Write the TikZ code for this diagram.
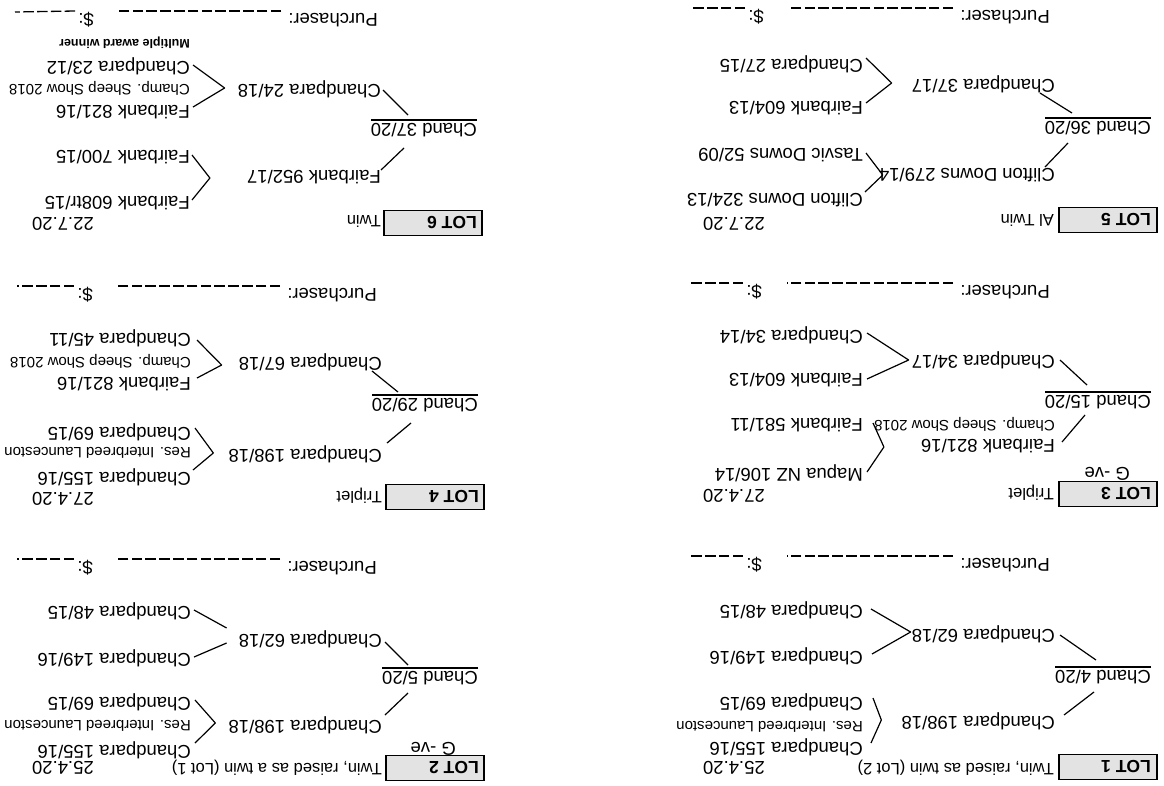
\documentclass[tikz,border=0pt]{standalone}
\usepackage{fontspec}
\setmainfont{Liberation Sans}
\tikzset{
 nm/.style={anchor=west, inner sep=0pt, font=\fontsize{18.5}{20}\selectfont},
 sm/.style={nm, font=\fontsize{15}{16}\selectfont},
 dsc/.style={nm, font=\fontsize{16.5}{18}\selectfont},
 lotlbl/.style={nm, font=\bfseries\fontsize{17.5}{19}\selectfont},
 award/.style={nm, font=\bfseries\fontsize{12.5}{14}\selectfont},
 lotbox/.style={draw=black, line width=1.8pt, fill=gray!22, minimum width=98pt, minimum height=25pt, anchor=west, inner sep=0pt},
 con/.style={line width=1.2pt, line join=round},
 dsh/.style={line width=1.3pt, dash pattern=on 10.5pt off 3.3pt},
}
\begin{document}
\begin{tikzpicture}[x=1pt,y=1pt]
\fill[white] (0,0) rectangle (1164,-785);
\useasboundingbox (0,0) rectangle (1164,-785);
\begin{scope}[rotate around={180:(582,-392.5)}, transform shape]
% ---------------- LOT 1
\node[lotbox] (b1) at (6,-18) {};
\node[lotlbl] (t1) at (13,-18) {LOT 1};
\node[dsc] (d1) at (110,-17) {Twin, raised as twin (Lot 2)};
\node[nm] (dt1) at (399,-17) {25.4.20};
\node[nm] (c1) at (13,-108) {Chand 4/20};
\node[nm] (p1a) at (109,-64) {Chandpara 198/18};
\node[nm] (p1b) at (109,-151) {Chandpara 62/18};
\node[nm] (g1a) at (301,-38) {Chandpara 155/16};
\node[sm] (n1a) at (301,-58) {Res. Interbreed Launceston};
\node[nm] (g1b) at (301,-83) {Chandpara 69/15};
\node[nm] (g1c) at (301,-129) {Chandpara 149/16};
\node[nm] (g1d) at (301,-175) {Chandpara 48/15};
\draw[con] ([yshift=-3pt]c1.south west) -- ([yshift=-3pt]c1.south east);
\draw[con] ([shift={(57,15)}]c1.west) -- ([shift={(-9,-6)}]p1a.west);
\draw[con] ([shift={(55,-17)}]c1.west) -- ([shift={(-5,1)}]p1b.west);
\draw[con] ([shift={(-8,-4)}]g1a.west) -- ([shift={(20,-1)}]p1a.east) -- ([shift={(-10,-4)}]g1b.west);
\draw[con] ([shift={(-9,-2)}]g1c.west) -- ([shift={(1,-2)}]p1b.east) -- ([shift={(-8,-1)}]g1d.west);
\node[nm] (pu1) at (114,-220) {Purchaser:};
\node[nm] (dl1) at (402,-220) {\$:};
\coordinate (e1) at (476,-229);
\draw[dsh] ([shift={(7,-9)}]pu1.east) -- ([shift={(-25,-9)}]dl1.west);
\draw[dsh] ([shift={(3,-9)}]dl1.east) -- (e1);
% ---------------- LOT 2
\node[lotbox] (b2) at (679,-17) {};
\node[lotlbl] (t2) at (685,-17) {LOT 2};
\node[dsc] (d2) at (782,-17) {Twin, raised as a twin (Lot 1)};
\node[nm] (dt2) at (1070,-17) {25.4.20};
\node[nm] (gv2) at (708,-36) {G -ve};
\node[nm] (c2) at (686,-107) {Chand 5/20};
\node[nm] (p2a) at (782,-60) {Chandpara 198/18};
\node[nm] (p2b) at (782,-146) {Chandpara 62/18};
\node[nm] (g2a) at (973,-35) {Chandpara 155/16};
\node[sm] (n2a) at (973,-59) {Res. Interbreed Launceston};
\node[nm] (g2b) at (973,-83) {Chandpara 69/15};
\node[nm] (g2c) at (973,-127) {Chandpara 149/16};
\node[nm] (g2d) at (973,-174) {Chandpara 48/15};
\draw[con] ([yshift=-3pt]c2.south west) -- ([yshift=-3pt]c2.south east);
\draw[con] ([shift={(70,15)}]c2.west) -- ([shift={(-3,-10)}]p2a.west);
\draw[con] ([shift={(70,-13)}]c2.west) -- ([shift={(-3,3)}]p2b.west);
\draw[con] ([shift={(-4,-7)}]g2a.west) -- ([shift={(13,-2)}]p2a.east) -- ([shift={(-4,-2)}]g2b.west);
\draw[con] ([shift={(-3,-1)}]g2c.west) -- ([shift={(12,4)}]p2b.east);
\draw[con] ([shift={(-3,-1)}]g2d.west) -- ([shift={(12,-11)}]p2b.east);
\node[nm] (pu2) at (787,-217) {Purchaser:};
\node[nm] (dl2) at (1071,-217) {\$:};
\coordinate (e2) at (1147,-226);
\draw[dsh] ([shift={(7,-9)}]pu2.east) -- ([shift={(-25,-9)}]dl2.west);
\draw[dsh] ([shift={(3,-9)}]dl2.east) -- (e2);
% ---------------- LOT 3
\node[lotbox] (b3) at (6,-291) {};
\node[lotlbl] (t3) at (13,-291) {LOT 3};
\node[dsc] (d3) at (110,-292) {Triplet};
\node[nm] (dt3) at (399,-289) {27.4.20};
\node[nm] (gv3) at (34,-311) {G -ve};
\node[nm] (c3) at (13,-383) {Chand 15/20};
\node[nm] (p3a) at (109,-339) {Fairbank 821/16};
\node[sm] (n3a) at (109,-361) {Champ. Sheep Show 2018};
\node[nm] (p3b) at (109,-425) {Chandpara 34/17};
\node[nm] (g3a) at (301,-312) {Mapua NZ 106/14};
\node[nm] (g3b) at (301,-360) {Fairbank 581/11};
\node[nm] (g3c) at (301,-405) {Fairbank 604/13};
\node[nm] (g3d) at (301,-450) {Chandpara 34/14};
\draw[con] ([yshift=-3pt]c3.south west) -- ([yshift=-3pt]c3.south east);
\draw[con] ([shift={(66,13)}]c3.west) -- ([shift={(-7,-4)}]p3a.west);
\draw[con] ([shift={(64,-17)}]c3.west) -- ([shift={(-5,0)}]p3b.west);
\draw[con] ([shift={(-4,-1)}]g3a.west) -- ([shift={(37,1)}]p3a.east) -- ([shift={(-10,-2)}]g3b.west);
\draw[con] ([shift={(-4,-1)}]g3c.west) -- ([shift={(3,0)}]p3b.east) -- ([shift={(-4,-2)}]g3d.west);
\node[nm] (pu3) at (114,-493) {Purchaser:};
\node[nm] (dl3) at (402,-493) {\$:};
\coordinate (e3) at (476,-502);
\draw[dsh] ([shift={(7,-9)}]pu3.east) -- ([shift={(-25,-9)}]dl3.west);
\draw[dsh] ([shift={(3,-9)}]dl3.east) -- (e3);
% ---------------- LOT 4
\node[lotbox] (b4) at (679,-288) {};
\node[lotlbl] (t4) at (685,-288) {LOT 4};
\node[dsc] (d4) at (782,-289) {Triplet};
\node[nm] (dt4) at (1070,-286) {27.4.20};
\node[nm] (c4) at (686,-380) {Chand 29/20};
\node[nm] (p4a) at (782,-331) {Chandpara 198/18};
\node[nm] (p4b) at (782,-423) {Chandpara 67/18};
\node[nm] (g4a) at (973,-308) {Chandpara 155/16};
\node[sm] (n4a) at (973,-332) {Res. Interbreed Launceston};
\node[nm] (g4b) at (973,-353) {Chandpara 69/15};
\node[nm] (g4c) at (973,-401) {Fairbank 821/16};
\node[sm] (n4c) at (973,-424) {Champ. Sheep Show 2018};
\node[nm] (g4d) at (973,-447) {Chandpara 45/11};
\draw[con] ([yshift=-3pt]c4.south west) -- ([yshift=-3pt]c4.south east);
\draw[con] ([shift={(67,18)}]c4.west) -- ([shift={(-5,-11)}]p4a.west);
\draw[con] ([shift={(80,-13)}]c4.west) -- ([shift={(10,9)}]p4b.west);
\draw[con] ([shift={(-2,-7)}]g4a.west) -- ([shift={(15,-1)}]p4a.east) -- ([shift={(-4,-4)}]g4b.west);
\draw[con] ([shift={(-6,-6)}]g4c.west) -- ([shift={(17,3)}]p4b.east) -- ([shift={(-6,2)}]g4d.west);
\node[nm] (pu4) at (787,-490) {Purchaser:};
\node[nm] (dl4) at (1071,-490) {\$:};
\coordinate (e4) at (1147,-499);
\draw[dsh] ([shift={(7,-9)}]pu4.east) -- ([shift={(-25,-9)}]dl4.west);
\draw[dsh] ([shift={(3,-9)}]dl4.east) -- (e4);
% ---------------- LOT 5
\node[lotbox] (b5) at (6,-565) {};
\node[lotlbl] (t5) at (13,-565) {LOT 5};
\node[dsc] (d5) at (110,-565) {Al Twin};
\node[nm] (dt5) at (399,-561) {22.7.20};
\node[nm] (c5) at (13,-657) {Chand 36/20};
\node[nm] (p5a) at (109,-610) {Clifton Downs 279/14};
\node[nm] (p5b) at (109,-701) {Chandpara 37/17};
\node[nm] (g5a) at (301,-585) {Clifton Downs 324/13};
\node[nm] (g5b) at (301,-630) {Tasvic Downs 52/09};
\node[nm] (g5c) at (301,-677) {Fairbank 604/13};
\node[nm] (g5d) at (301,-721) {Chandpara 27/15};
\draw[con] ([yshift=-3pt]c5.south west) -- ([yshift=-3pt]c5.south east);
\draw[con] ([shift={(83,15)}]c5.west) -- ([shift={(10,-8)}]p5a.west);
\draw[con] ([shift={(79,-15)}]c5.west) -- ([shift={(15,9)}]p5b.west);
\draw[con] ([shift={(-2,-8)}]g5a.west) -- ([shift={(-4,0)}]p5a.east) -- ([shift={(-3,-2)}]g5b.west);
\draw[con] ([shift={(-3,-5)}]g5c.west) -- ([shift={(20,-1)}]p5b.east) -- ([shift={(-3,-6)}]g5d.west);
\node[nm] (pu5) at (114,-768) {Purchaser:};
\node[nm] (dl5) at (400,-768) {\$:};
\coordinate (e5) at (474,-777);
\draw[dsh] ([shift={(7,-9)}]pu5.east) -- ([shift={(-25,-9)}]dl5.west);
\draw[dsh] ([shift={(3,-9)}]dl5.east) -- (e5);
% ---------------- LOT 6
\node[lotbox] (b6) at (681,-562) {};
\node[lotlbl] (t6) at (687,-562) {LOT 6};
\node[dsc] (d6) at (783,-564) {Twin};
\node[nm] (dt6) at (1070,-561) {22.7.20};
\node[nm] (c6) at (687,-655) {Chand 37/20};
\node[nm] (p6a) at (783,-608) {Fairbank 952/17};
\node[nm] (p6b) at (783,-696) {Chandpara 24/18};
\node[nm] (g6a) at (974,-582) {Fairbank 608tr/15};
\node[nm] (g6b) at (974,-628) {Fairbank 700/15};
\node[nm] (g6c) at (974,-673) {Fairbank 821/16};
\node[sm] (n6c) at (974,-697) {Champ. Sheep Show 2018};
\node[nm] (g6d) at (974,-719) {Chandpara 23/12};
\node[award] (n6d) at (974,-742) {Multiple award winner};
\draw[con] ([yshift=-3pt]c6.south west) -- ([yshift=-3pt]c6.south east);
\draw[con] ([shift={(73,18)}]c6.west) -- ([shift={(0,-7)}]p6a.west);
\draw[con] ([shift={(69,-15)}]c6.west) -- ([shift={(-2,1)}]p6b.west);
\draw[con] ([shift={(-2,-3)}]g6a.west) -- ([shift={(37,1)}]p6a.east) -- ([shift={(-2,-2)}]g6b.west);
\draw[con] ([shift={(-3,-5)}]g6c.west) -- ([shift={(13,-1)}]p6b.east) -- ([shift={(-3,-1)}]g6d.west);
\node[nm] (pu6) at (786,-765) {Purchaser:};
\node[nm] (dl6) at (1070,-765) {\$:};
\coordinate (e6) at (1149,-773);
\draw[dsh] ([shift={(7,-9)}]pu6.east) -- ([shift={(-25,-9)}]dl6.west);
\draw[dsh] ([shift={(3,-9)}]dl6.east) -- (e6);
\end{scope}
\end{tikzpicture}
\end{document}
